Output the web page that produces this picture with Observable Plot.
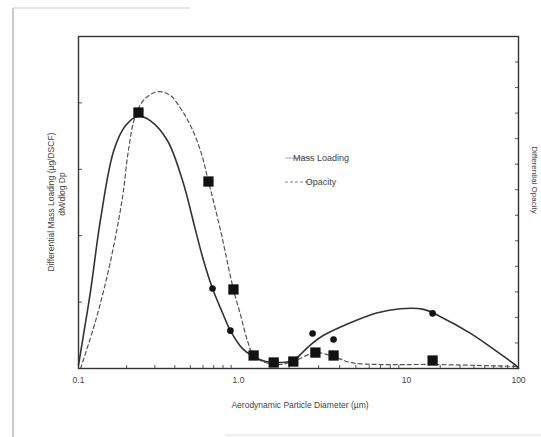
<!DOCTYPE html>
<html>
<head>
<meta charset="utf-8">
<script src="https://cdn.jsdelivr.net/npm/d3@7"></script>
<script src="https://cdn.jsdelivr.net/npm/@observablehq/plot@0.6"></script>
<style>
  body { margin: 0; background: #fff; }
  #chart { position: relative; width: 541px; height: 437px; }
</style>
</head>
<body>
<div id="chart"></div>
<script>
// Mass loading size distribution, dM/dlog Dp (solid curve)
const massDiameter = [0.1, 0.106, 0.119, 0.137, 0.166, 0.197, 0.237, 0.282, 0.36, 0.447, 0.539, 0.604, 0.688, 0.794, 0.89, 1.056, 1.23, 1.45, 1.78, 2.12, 2.4, 2.75, 3.21, 4.64, 6.72, 9.2, 14.2, 20.1, 37.3, 62.4, 94, 100];
const massLoading  = [0.05, 0.42, 1.17, 2.23, 3.28, 3.66, 3.80, 3.73, 3.43, 2.83, 2.08, 1.63, 1.205, 0.84, 0.57, 0.30, 0.18, 0.105, 0.09, 0.12, 0.24, 0.38, 0.50, 0.69, 0.84, 0.90, 0.89, 0.78, 0.53, 0.27, 0.05, 0];

// Opacity size distribution (dashed curve)
const opacityDiameter = [0.103, 0.128, 0.154, 0.178, 0.191, 0.205, 0.227, 0.262, 0.316, 0.376, 0.434, 0.501, 0.579, 0.649, 0.772, 0.93, 1.03, 1.13, 1.23, 1.45, 1.78, 2.18, 2.87, 3.68, 4.64, 7.0, 17, 100];
const opacityValue    = [0, 0.72, 1.48, 2.23, 2.68, 3.28, 3.81, 4.07, 4.17, 4.11, 3.92, 3.66, 3.28, 2.82, 2.08, 1.19, 0.80, 0.42, 0.196, 0.09, 0.06, 0.12, 0.24, 0.18, 0.09, 0.06, 0.06, 0.03];

// Impactor stage results: mass loading (circles)
const massStageDiameter = [0.688, 0.89, 1.62, 2.76, 3.68, 17.1];
const massStageValue    = [1.205, 0.57, 0.09, 0.527, 0.437, 0.83];

// Impactor stage results: opacity (squares)
const opacityStageDiameter = [0.237, 0.649, 0.93, 1.23, 1.62, 2.12, 2.87, 3.68, 17.1];
const opacityStageValue    = [3.855, 2.816, 1.19, 0.196, 0.09, 0.105, 0.24, 0.196, 0.12];

// Axis ticks
const xTickValues = [0.1, 1, 10, 100];
const xTickLabels = ["0.1", "1.0", "10", "100"];
const xMinorTicks = [0.2,0.3,0.4,0.5,0.6,0.7,0.8,0.9, 2,3,4,5,6,7,8,9, 20,30,40,50,60,70,80,90];
const leftTicks = [1, 2, 3, 4];
const rightTicks = d3.range(1, 13).map(k => k * 5 / 13);

const massRows = massDiameter.map((d, i) => ({d, v: massLoading[i]}));
const opacityRows = opacityDiameter.map((d, i) => ({d, v: opacityValue[i]}));
const massStages = massStageDiameter.map((d, i) => ({d, v: massStageValue[i]}));
const opacityStages = opacityStageDiameter.map((d, i) => ({d, v: opacityStageValue[i]}));

const font = "'Liberation Sans', Arial, Helvetica, sans-serif";

const chart = Plot.plot({
  width: 541,
  height: 437,
  marginLeft: 78,
  marginRight: 23,
  marginTop: 36,
  marginBottom: 69,
  style: { fontFamily: font, fontSize: "8.5px", color: "#444", background: "transparent" },
  x: { type: "log", domain: [0.1, 1, 10, 100], range: [78, 238, 406, 518] },
  y: { domain: [0, 5] },
  marks: [
    Plot.axisX({
      ticks: xTickValues,
      tickFormat: d => xTickLabels[xTickValues.indexOf(d)],
      tickSize: 0,
      tickPadding: 8,
      label: null
    }),
    Plot.axisX({ ticks: xMinorTicks, tickSize: -3, tickFormat: () => "", label: null, stroke: "#555" }),
    Plot.axisY({ ticks: leftTicks, tickSize: -4, tickFormat: () => "", label: null, stroke: "#555" }),
    Plot.axisY({ anchor: "right", ticks: rightTicks, tickSize: -4, tickFormat: () => "", label: null, stroke: "#555" }),
    Plot.line(opacityRows, { x: "d", y: "v", curve: "catmull-rom", stroke: "#555", strokeWidth: 1.2, strokeDasharray: "4,3" }),
    Plot.line(massRows, { x: "d", y: "v", curve: "catmull-rom", stroke: "#333", strokeWidth: 1.6 }),
    Plot.dot(opacityStages, { x: "d", y: "v", symbol: "square", r: 5.8, fill: "#111", stroke: "none" }),
    Plot.dot(massStages, { x: "d", y: "v", r: 3.3, fill: "#111", stroke: "none" }),
    Plot.frame({ stroke: "#333", strokeWidth: 1.4 })
  ]
});

document.getElementById("chart").appendChild(chart);

// Titles, legend and page edge
const svg = d3.select(chart);
const g = svg.append("g").attr("font-family", font).attr("fill", "#444");

g.append("text")
  .attr("x", 300).attr("y", 408)
  .attr("text-anchor", "middle").attr("font-size", 8.5)
  .text("Aerodynamic Particle Diameter (\u00b5m)");

g.append("text")
  .attr("transform", "translate(54,202) rotate(-90)")
  .attr("text-anchor", "middle").attr("font-size", 8.5)
  .text("Differential Mass Loading (\u00b5g/DSCF)");

g.append("text")
  .attr("transform", "translate(65,194) rotate(-90)")
  .attr("text-anchor", "middle").attr("font-size", 8.5)
  .text("dM/dlog Dp");

g.append("text")
  .attr("transform", "translate(532,180) rotate(90)")
  .attr("text-anchor", "middle").attr("font-size", 8)
  .text("Differential Opacity");

// Legend
const legend = svg.append("g").attr("font-family", font);
legend.append("line").attr("x1", 285).attr("x2", 312).attr("y1", 158).attr("y2", 158)
  .attr("stroke", "#aaa").attr("stroke-width", 1);
legend.append("text").attr("x", 321).attr("y", 161).attr("font-size", 9).attr("fill", "#444").text("Mass Loading");
legend.append("line").attr("x1", 285).attr("x2", 312).attr("y1", 182).attr("y2", 182)
  .attr("stroke", "#888").attr("stroke-width", 1).attr("stroke-dasharray", "3,2");
legend.append("text").attr("x", 321).attr("y", 185).attr("font-size", 9).attr("fill", "#444").text("Opacity");

// Page edge of the printed sheet
const edge = svg.append("g").attr("stroke", "#aaa").attr("stroke-width", 1.2);
edge.append("line").attr("x1", 13).attr("x2", 13).attr("y1", 8).attr("y2", 437);
edge.append("line").attr("x1", 13).attr("x2", 190).attr("y1", 8).attr("y2", 8).attr("stroke", "#ccc");
edge.append("line").attr("x1", 225).attr("x2", 541).attr("y1", 435).attr("y2", 435).attr("stroke", "#ddd");
</script>
</body>
</html>
